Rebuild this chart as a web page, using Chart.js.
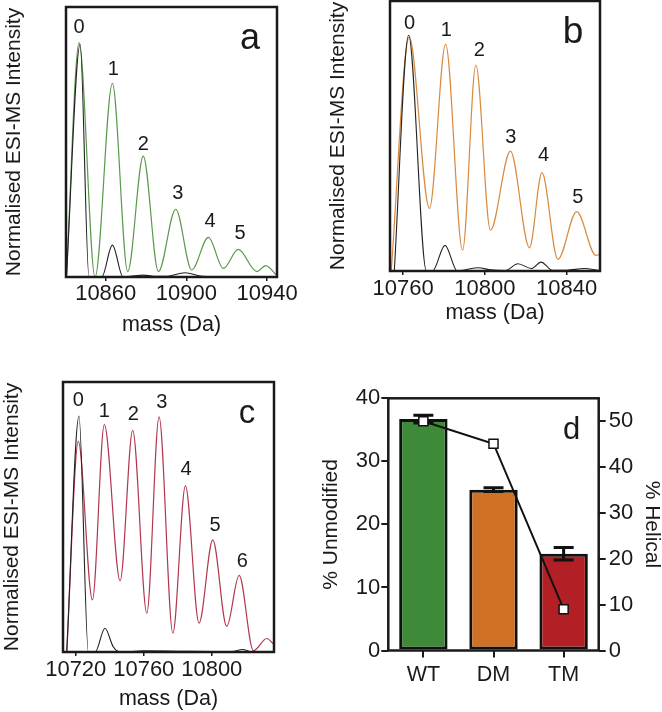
<!DOCTYPE html>
<html><head><meta charset="utf-8">
<script src="https://cdn.jsdelivr.net/npm/chart.js@4.4.1/dist/chart.umd.min.js"></script>
<style>
html,body{margin:0;padding:0;background:#fff;width:662px;height:712px;overflow:hidden;position:relative}
canvas{position:absolute}
</style></head><body>
<canvas id="ca" width="331" height="340" style="left:0;top:0"></canvas>
<canvas id="cb" width="337" height="330" style="left:325px;top:0"></canvas>
<canvas id="cc" width="331" height="352" style="left:0;top:360px"></canvas>
<canvas id="cd" width="352" height="352" style="left:310px;top:360px"></canvas>
<script>
// ---------- Panel a ----------
const A_TICKS = [10860, 10900, 10940];
const A_GREEN_MASS = [10840.5, 10846.8, 10854.7, 10863.3, 10870.9, 10878.6, 10886.1, 10894.7, 10902.6, 10910.9, 10918.3, 10925.7, 10934.9, 10939.3, 10944.9];
const A_GREEN_INT  = [0.0, 0.868, 0.0, 0.717, 0.02, 0.448, 0.02, 0.251, 0.026, 0.147, 0.032, 0.102, 0.02, 0.042, 0.005];
const A_BLACK_MASS = [10840.5, 10847.3, 10851.7, 10858.0, 10863.3, 10868.6, 10874, 10878.6, 10884, 10890, 10899.3, 10908, 10944.9];
const A_BLACK_INT  = [0.0, 0.862, 0.0, 0.0, 0.118, 0.0, 0.004, 0.007, 0.003, 0.003, 0.016, 0.003, 0.0];
const A_LABELS     = ['0', '1', '2', '3', '4', '5'];
const A_LABEL_MASS = [10846.8, 10863.8, 10878.6, 10895.7, 10911.7, 10926.6];
const A_LABEL_INT  = [0.924, 0.767, 0.489, 0.311, 0.205, 0.163];

// ---------- Panel b ----------
const B_TICKS = [10760, 10800, 10840];
const B_ORANGE_MASS = [10754.2, 10763.0, 10772.9, 10780.8, 10789.1, 10795.6, 10802.7, 10812.5, 10821.8, 10827.9, 10835.7, 10844.9, 10854.3, 10856.3];
const B_ORANGE_INT  = [0.0, 0.867, 0.232, 0.84, 0.077, 0.763, 0.151, 0.444, 0.086, 0.364, 0.043, 0.22, 0.058, 0.062];
const B_BLACK_MASS = [10755.7, 10762.7, 10771.4, 10774.4, 10780.5, 10786.5, 10790, 10796.7, 10803, 10810, 10816.2, 10822.7, 10827.5, 10833, 10840, 10848.5, 10856.3];
const B_BLACK_INT  = [0.0, 0.873, 0.0, 0.0, 0.095, 0.0, 0.004, 0.012, 0.004, 0.002, 0.027, 0.009, 0.033, 0.003, 0.003, 0.009, 0.002];
const B_LABELS     = ['0', '1', '2', '3', '4', '5'];
const B_LABEL_MASS = [10763.2, 10781.1, 10797.3, 10812.7, 10828.7, 10845.5];
const B_LABEL_INT  = [0.916, 0.889, 0.815, 0.496, 0.426, 0.271];

// ---------- Panel c ----------
const C_TICKS = [10720, 10760, 10800];
const C_RED_MASS = [10714.7, 10721.5, 10729.8, 10736.8, 10746.1, 10753.5, 10761.8, 10769.0, 10777.1, 10784.5, 10792.5, 10800.6, 10808.8, 10816.1, 10824.5, 10832.4, 10836.6];
const C_RED_INT  = [0.0, 0.78, 0.193, 0.842, 0.264, 0.821, 0.144, 0.871, 0.07, 0.615, 0.107, 0.415, 0.095, 0.284, 0.005, 0.05, 0.027];
const C_BLACK_MASS = [10714.7, 10721.9, 10727.4, 10731.4, 10737.2, 10742, 10746, 10760, 10780, 10800, 10812, 10818, 10824, 10836.6];
const C_BLACK_INT  = [0.0, 0.874, 0.0, 0.0, 0.088, 0.02, 0.0, 0.004, 0.003, 0.002, 0.002, 0.009, 0.0, 0.0];
const C_LABELS     = ['0', '1', '2', '3', '4', '5', '6'];
const C_LABEL_MASS = [10721.5, 10736.8, 10753.9, 10770.6, 10784.9, 10801.9, 10818.0];
const C_LABEL_INT  = [0.933, 0.89, 0.878, 0.923, 0.677, 0.468, 0.337];

// ---------- Panel d ----------
const D_CATEGORIES = ['WT', 'DM', 'TM'];
const D_UNMODIFIED = [36.7, 25.5, 15.35];
const D_UNMOD_ERR  = [0.6, 0.3, 1.0];
const D_HELICAL    = [50.0, 45.1, 9.0];
const D_LEFT_TICKS  = [0, 10, 20, 30, 40];
const D_RIGHT_TICKS = [0, 10, 20, 30, 40, 50];

const FONT = '"Liberation Sans", Arial, Helvetica, sans-serif';
const INK = '#1a1a1a';
Chart.defaults.font.family = FONT;
Chart.defaults.color = INK;

const annot = {
  id: 'annot',
  afterDatasetsDraw(chart, args, o) {
    const {ctx, chartArea: a, scales} = chart;
    ctx.save();
    ctx.fillStyle = INK;
    ctx.textAlign = 'center';
    ctx.textBaseline = 'middle';
    if (o.labels) {
      ctx.font = '20px ' + FONT;
      o.labels.forEach((t, i) => {
        ctx.fillText(t, scales.x.getPixelForValue(o.mass[i]), scales.y.getPixelForValue(o.inten[i]));
      });
    }
    ctx.font = o.letterSize + 'px ' + FONT;
    ctx.fillText(o.letter, a.right - 27, a.top + 32);
    ctx.strokeStyle = INK;
    ctx.lineWidth = 2.5;
    ctx.strokeRect(a.left, a.top, a.right - a.left, a.bottom - a.top);
    ctx.restore();
  }
};

function series(mass, inten, color, width) {
  return {
    data: mass.map((m, i) => ({x: m, y: inten[i]})),
    borderColor: color, borderWidth: width, pointRadius: 0, fill: false,
    cubicInterpolationMode: 'monotone'
  };
}

function spectrum(id, c) {
  return new Chart(document.getElementById(id), {
    type: 'line',
    data: {datasets: c.datasets},
    options: {
      responsive: false, animation: false, devicePixelRatio: 1,
      layout: {padding: c.pad},
      plugins: {legend: {display: false}, tooltip: {enabled: false}, annot: c.annot},
      scales: {
        x: {
          type: 'linear', min: c.xmin, max: c.xmax,
          afterBuildTicks: sc => { sc.ticks = c.ticks.map(v => ({value: v})); },
          afterFit: sc => { sc.height = c.xh; },
          ticks: {font: {size: 22}, color: INK, padding: c.tpad, maxRotation: 0, autoSkip: false, callback: v => String(v)},
          grid: {display: true, drawOnChartArea: false, drawTicks: true, tickLength: 4, color: INK, lineWidth: 1.5},
          border: {display: false},
          title: {display: true, text: 'mass (Da)', font: {size: 21.5, lineHeight: 1.2}, color: INK, padding: {top: 0, bottom: c.xtp}}
        },
        y: {
          min: 0, max: 1,
          afterFit: sc => { sc.width = c.yw; },
          ticks: {display: false}, grid: {display: false}, border: {display: false},
          title: {display: true, text: 'Normalised ESI-MS Intensity', font: {size: 21, lineHeight: 1.2}, color: INK, padding: {top: c.ytp, bottom: 0}}
        }
      }
    },
    plugins: [annot]
  });
}

spectrum('ca', {
  datasets: [series(A_BLACK_MASS, A_BLACK_INT, '#222', 1.1), series(A_GREEN_MASS, A_GREEN_INT, '#5a9a4c', 1.2)],
  xmin: 10840.3, xmax: 10944.9, ticks: A_TICKS,
  pad: {top: 7, right: 54, left: 0, bottom: 0}, xh: 63, yw: 66, tpad: 0, xtp: 2, ytp: 2,
  annot: {labels: A_LABELS, mass: A_LABEL_MASS, inten: A_LABEL_INT, letter: 'a', letterSize: 36}
});
spectrum('cb', {
  datasets: [series(B_BLACK_MASS, B_BLACK_INT, '#222', 1.1), series(B_ORANGE_MASS, B_ORANGE_INT, '#d98a40', 1.2)],
  xmin: 10753.6, xmax: 10856.3, ticks: B_TICKS,
  pad: {top: 1, right: 62, left: 0, bottom: 0}, xh: 59, yw: 65, tpad: 1, xtp: 4, ytp: 1,
  annot: {labels: B_LABELS, mass: B_LABEL_MASS, inten: B_LABEL_INT, letter: 'b', letterSize: 37}
});
spectrum('cc', {
  datasets: [series(C_BLACK_MASS, C_BLACK_INT, '#222', 1.1), series(C_RED_MASS, C_RED_INT, '#b3374d', 1.2)],
  xmin: 10712.5, xmax: 10836.6, ticks: C_TICKS,
  pad: {top: 22, right: 57, left: 0, bottom: 0}, xh: 60, yw: 63, tpad: 1, xtp: 0, ytp: 0,
  annot: {labels: C_LABELS, mass: C_LABEL_MASS, inten: C_LABEL_INT, letter: 'c', letterSize: 33}
});

const errorBars = {
  id: 'errorBars',
  afterDatasetDraw(chart, args) {
    if (args.index !== 0) return;
    const {ctx, scales} = chart;
    const meta = chart.getDatasetMeta(0);
    ctx.save();
    ctx.strokeStyle = '#111';
    ctx.lineWidth = 3;
    meta.data.forEach((bar, i) => {
      const v = D_UNMODIFIED[i], e = D_UNMOD_ERR[i];
      const yt = scales.y.getPixelForValue(v + e), yb = scales.y.getPixelForValue(v - e);
      const x = bar.x, hw = 10;
      ctx.beginPath();
      ctx.moveTo(x, yt); ctx.lineTo(x, yb);
      ctx.moveTo(x - hw, yt); ctx.lineTo(x + hw, yt);
      ctx.moveTo(x - hw, yb); ctx.lineTo(x + hw, yb);
      ctx.stroke();
    });
    ctx.restore();
  }
};

new Chart(document.getElementById('cd'), {
  type: 'bar',
  data: {
    labels: D_CATEGORIES,
    datasets: [
      {type: 'bar', data: D_UNMODIFIED, yAxisID: 'y', order: 1,
       backgroundColor: ['#3e8a38', '#cf7226', '#b21f25'], borderColor: '#111', borderWidth: 3, borderSkipped: false,
       barPercentage: 0.69, categoryPercentage: 1},
      {type: 'line', data: D_HELICAL, yAxisID: 'y2', order: 0,
       borderColor: '#111', borderWidth: 2, tension: 0, fill: false,
       pointStyle: 'rect', pointRadius: 6.4, pointBackgroundColor: '#fff', pointBorderColor: '#111', pointBorderWidth: 1.5}
    ]
  },
  options: {
    responsive: false, animation: false, devicePixelRatio: 1,
    layout: {padding: {top: 38.3, left: 0, right: 0, bottom: 0}},
    plugins: {legend: {display: false}, tooltip: {enabled: false},
              annot: {letter: 'd', letterSize: 31}},
    scales: {
      x: {
        afterFit: sc => { sc.height = 61.5; },
        ticks: {font: {size: 21.5}, color: INK, padding: 5},
        grid: {display: true, drawOnChartArea: false, offset: false, tickLength: 7, color: INK, lineWidth: 2},
        border: {display: false}
      },
      y: {
        position: 'left', min: 0, max: 40,
        afterBuildTicks: sc => { sc.ticks = D_LEFT_TICKS.map(v => ({value: v})); },
        afterFit: sc => { sc.width = 78.3; },
        ticks: {font: {size: 22}, color: INK, padding: 1},
        grid: {display: true, drawOnChartArea: false, tickLength: 7, color: INK, lineWidth: 2},
        border: {display: false},
        title: {display: true, text: '% Unmodified', font: {size: 21, lineHeight: 1.2}, color: INK, padding: {top: 9, bottom: 0}}
      },
      y2: {
        position: 'right', min: 0, max: 55,
        afterBuildTicks: sc => { sc.ticks = D_RIGHT_TICKS.map(v => ({value: v})); },
        afterFit: sc => { sc.width = 63.3; },
        ticks: {font: {size: 22}, color: INK, padding: 3},
        grid: {display: true, drawOnChartArea: false, tickLength: 7, color: INK, lineWidth: 2},
        border: {display: false},
        title: {display: true, text: '% Helical', font: {size: 21, lineHeight: 1.0}, color: INK, padding: {top: 0, bottom: 0}}
      }
    }
  },
  plugins: [errorBars, annot]
});
</script>
</body></html>
